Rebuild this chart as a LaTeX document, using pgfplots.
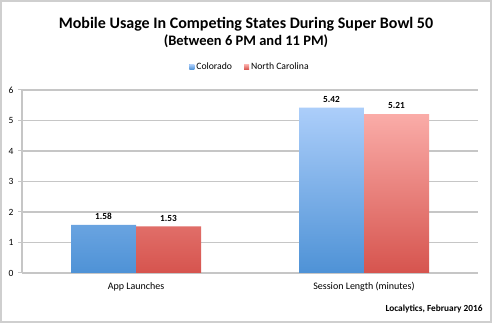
\documentclass[border=0pt]{standalone}
\usepackage{pgfplots}
\pgfplotsset{compat=1.18}
\usepackage{fontspec}
\setmainfont{Carlito}
\definecolor{framec}{HTML}{CFCFCF}
\definecolor{gridc}{HTML}{C6C6C6}
\definecolor{cotop}{RGB}{172,206,250}
\definecolor{cobot}{RGB}{78,146,214}
\definecolor{nctop}{RGB}{250,172,168}
\definecolor{ncbot}{RGB}{214,84,78}
\definecolor{colegend}{RGB}{110,165,230}
\definecolor{nclegend}{RGB}{232,120,118}
\begin{document}
\begin{tikzpicture}[x=1pt,y=1pt]
\path[use as bounding box] (0,0) rectangle (492,323);
\fill[white] (0,0) rectangle (492,323);
\draw[draw=framec, line width=2pt] (1,1) rectangle (491,322);
\begin{axis}[
  at={(22pt,50pt)}, anchor=south west,
  scale only axis, width=456pt, height=183pt,
  xmin=-0.5, xmax=1.5, ymin=0, ymax=6,
  ytick={0,1,2,3,4,5,6},
  xtick={0,1},
  xticklabels={App Launches, Session Length (minutes)},
  major x tick style={draw=none},
  extra x ticks={0.5,1.5},
  extra x tick labels={},
  extra x tick style={major tick length=4pt, tick style={draw=gridc, line width=1pt}, xmajorgrids=false},
  axis x line=bottom, axis y line=left,
  axis line style={-, draw=gridc, line width=1.2pt},
  tick align=outside,
  major tick length=4pt,
  y tick style={draw=gridc, line width=1pt},
  ymajorgrids,
  major grid style={draw=gridc, line width=1.4pt},
  tick label style={font=\fontsize{9.5}{10}\selectfont},
  xticklabel style={font=\fontsize{10}{11}\selectfont, yshift=-2pt},
  /pgf/number format/assume math mode=true,
  yticklabel style={xshift=-1pt},
  ybar=0pt, bar width=65pt,
  nodes near coords,
  nodes near coords style={font=\bfseries\fontsize{9.3}{10}\selectfont, black, yshift=1.5pt,
    /pgf/number format/.cd, fixed, fixed zerofill, precision=2},
  legend style={at={(0.5,1.126)}, anchor=center, draw=none, fill=none,
    legend columns=2, font=\fontsize{9.7}{10}\selectfont,
    /tikz/every even column/.append style={column sep=10pt}},
  legend cell align=left,
]
\addplot[draw=none, top color=cotop, bottom color=cobot,
  legend image code/.code={\fill[colegend] (0pt,-2.5pt) rectangle (5pt,2.5pt);}]
  coordinates {(0,1.58) (1,5.42)};
\addplot[draw=none, top color=nctop, bottom color=ncbot,
  legend image code/.code={\fill[nclegend] (0pt,-2.5pt) rectangle (5pt,2.5pt);}]
  coordinates {(0,1.53) (1,5.21)};
\legend{Colorado, North Carolina}
\end{axis}
\node[font=\bfseries\fontsize{16}{18}\selectfont] at (246,298.5) {Mobile Usage In Competing States During Super Bowl 50};
\node[font=\bfseries\fontsize{14.5}{16}\selectfont] at (246,281.5) {(Between 6 PM and 11 PM)};
\node[anchor=east, font=\bfseries\fontsize{9.3}{10}\selectfont] at (486,14) {Localytics, February 2016};
\end{tikzpicture}
\end{document}
